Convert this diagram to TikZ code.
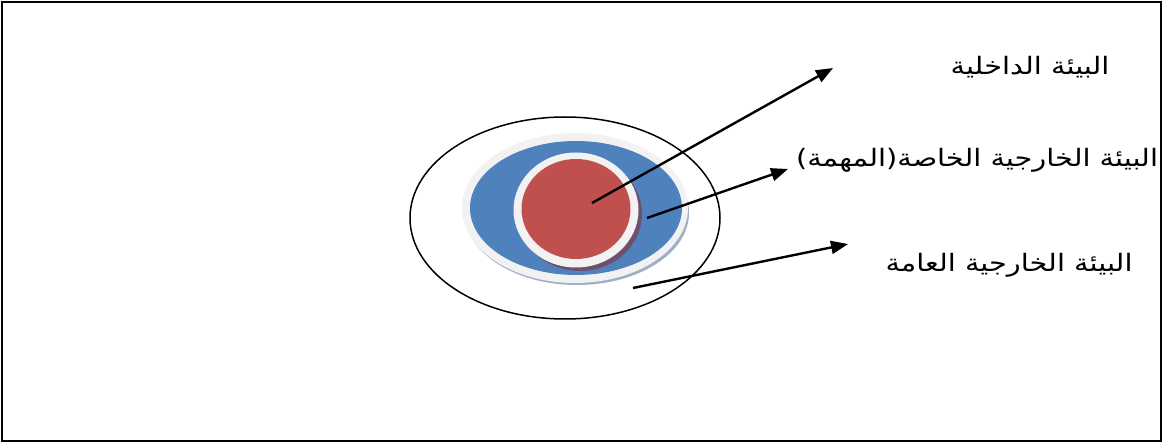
\documentclass[tikz,border=0pt]{standalone}
\usepackage{fontspec}
\newfontfamily\arabicfont[Script=Arabic,FakeStretch=1.2]{DejaVu Sans}
\TeXXeTstate=1
\usetikzlibrary{arrows.meta}
\definecolor{plateblue}{RGB}{79,129,189}
\definecolor{discred}{RGB}{192,80,77}
\definecolor{discshadow}{RGB}{110,80,110}
\definecolor{rimgray}{RGB}{242,242,242}
\definecolor{plateshadow}{RGB}{160,175,195}
\begin{document}
\begin{tikzpicture}[x=1pt,y=-1pt,
  lbl/.style={font=\arabicfont\fontsize{24}{28}\selectfont, inner sep=0pt, anchor=center},
  arr/.style={line width=2.4pt, -{Triangle[length=17pt,width=13pt]}}]
\useasboundingbox (0,0) rectangle (1163,443);
\draw[line width=1.2pt] (2,2) rectangle (1161,441);
% outer ellipse
\draw[line width=1.5pt] (565,218) ellipse [x radius=155, y radius=101];
% blue plate with rim and shadow
\fill[plateshadow] (577,213) ellipse [x radius=112, y radius=72];
\fill[rimgray] (575,208) ellipse [x radius=113, y radius=75];
\fill[plateblue] (576,208) ellipse [x radius=106, y radius=67];
% red disc
\fill[discshadow] (580,214) ellipse [x radius=62, y radius=57];
\fill[rimgray] (576,210) ellipse [x radius=62.5, y radius=57.5];
\fill[discred] (576,209) ellipse [x radius=54.5, y radius=50];
% anchors
\coordinate (s1) at (592,203);
\coordinate (s2) at (647,218);
\coordinate (s3) at (633,288);
\node[lbl] (t1) at (1030,67) {\beginR البيئة الداخلية\endR};
\node[lbl] (t2) at (977,160) {\beginR البيئة الخارجية الخاصة(المهمة)\endR};
\node[lbl] (t3) at (1009,265) {\beginR البيئة الخارجية العامة\endR};
\coordinate (e1) at (833,68);
\coordinate (e2) at (788,169);
\coordinate (e3) at (848,244);
\draw[arr] (s1) -- (e1);
\draw[arr] (s2) -- (e2);
\draw[arr] (s3) -- (e3);
\end{tikzpicture}
\end{document}
